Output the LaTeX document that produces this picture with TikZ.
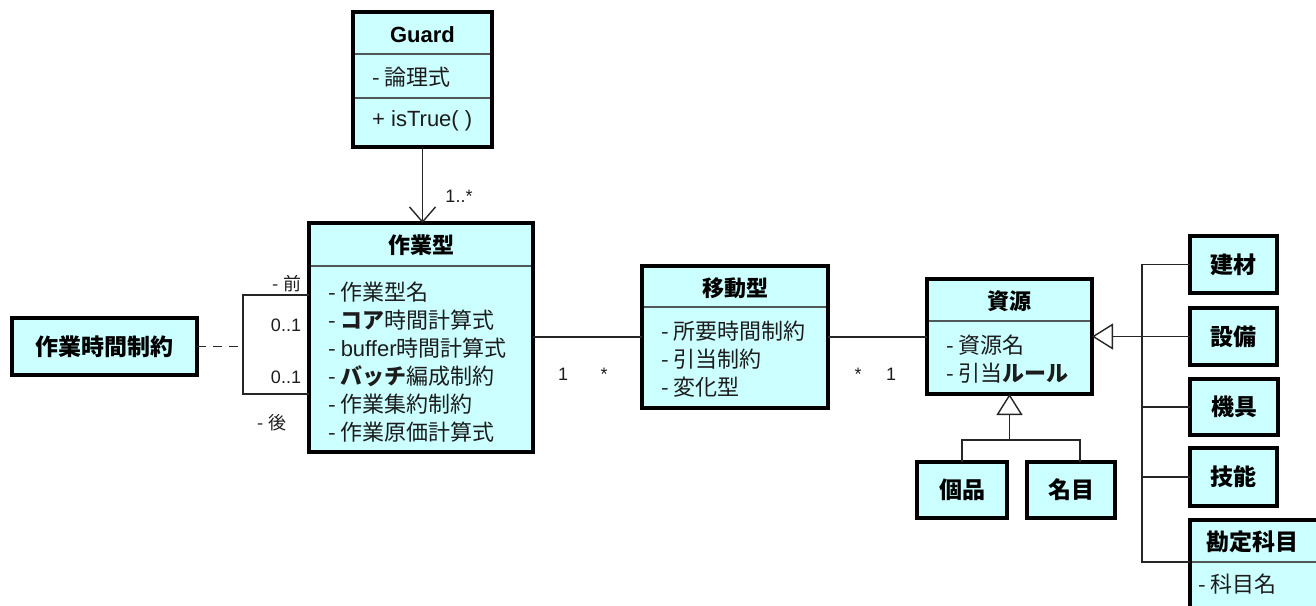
\documentclass[tikz,border=0pt]{standalone}
\usepackage{fontspec}
\setmainfont{Noto Sans CJK JP}
\newfontfamily\lat{Liberation Sans}
\usetikzlibrary{arrows.meta}
\definecolor{boxfill}{HTML}{CCFFFF}
\definecolor{sepgray}{HTML}{505858}
\definecolor{txt}{HTML}{1C1C1C}
\tikzset{
  box/.style={draw=black, line width=3.5pt, fill=boxfill, inner sep=0pt, outer sep=0pt, anchor=north west,
    font=\fontsize{23}{27}\selectfont\bfseries, text=black},
  sepline/.style={draw=sepgray, line width=1.6pt, shorten <=1.75pt, shorten >=1.75pt},
  title/.style={font=\fontsize{22}{26}\selectfont\bfseries, text=black, inner sep=0pt},
  attr/.style={font=\fontsize{22}{26}\selectfont, text=txt, anchor=west, inner sep=0pt},
  lbl/.style={font=\fontsize{18}{21}\selectfont, text=txt, inner sep=0pt},
  conn/.style={draw=black!85, line width=1.4pt},
  gen/.style={conn, -{Triangle[fill=white, length=21pt, width=26pt, line width=1.4pt]}},
}
\begin{document}
\begin{tikzpicture}[x=1pt, y=-1pt]
\useasboundingbox (0,0) rectangle (1316,605);
\clip (0,0) rectangle (1316,605);

% ---------- boxes ----------
\node[box, minimum width=139pt, minimum height=135pt] (guard) at (353,12) {};
\node[box, minimum width=224pt, minimum height=229pt] (sagyo) at (309,223) {};
\node[box, minimum width=186pt, minimum height=142pt] (ido) at (642,266) {};
\node[box, minimum width=165pt, minimum height=115pt] (shigen) at (927,279) {};
\node[box, minimum width=185pt, minimum height=57pt] (jikan) at (12,318) {作業時間制約};
\node[box, minimum width=90pt, minimum height=56pt] (kohin) at (917,462) {個品};
\node[box, minimum width=88pt, minimum height=56pt] (meimoku) at (1027,462) {名目};
\node[box, minimum width=87pt, minimum height=57pt] (kenzai) at (1190,236) {建材};
\node[box, minimum width=87pt, minimum height=57pt] (setsubi) at (1190,308) {設備};
\node[box, minimum width=88pt, minimum height=56pt] (kigu) at (1190,379) {機具};
\node[box, minimum width=87pt, minimum height=58pt] (gino) at (1190,448) {技能};
\node[box, minimum width=130pt, minimum height=90pt] (kanjo) at (1190,520) {};

% ---------- compartment separators ----------
\draw[sepline] (guard.west |- 0,54) -- (guard.east |- 0,54);
\draw[sepline] (guard.west |- 0,98) -- (guard.east |- 0,98);
\draw[sepline] (sagyo.west |- 0,266) -- (sagyo.east |- 0,266);
\draw[sepline] (ido.west |- 0,307) -- (ido.east |- 0,307);
\draw[sepline] (shigen.west |- 0,321) -- (shigen.east |- 0,321);
\draw[sepline] (kanjo.west |- 0,562) -- (kanjo.east |- 0,562);

% ---------- texts ----------
\node[title] (guardT) at (422.5,35) {\lat Guard};
\node[attr] (guardA) at (372,77) {- 論理式};
\node[attr] (guardM) at (372,121) {\lat + isTrue( )};

\node[title] (sagyoT) at (421,245) {作業型};
\node[attr] (sa1) at (328,292) {- 作業型名};
\node[attr] (sa2) at (328,320) {- \textbf{コア}時間計算式};
\node[attr] (sa3) at (328,348) {- {\lat buffer}時間計算式};
\node[attr] (sa4) at (328,376) {- \textbf{バッチ}編成制約};
\node[attr] (sa5) at (328,404) {- 作業集約制約};
\node[attr] (sa6) at (328,432) {- 作業原価計算式};

\node[title] (idoT) at (735,288) {移動型};
\node[attr] (id1) at (661,331) {- 所要時間制約};
\node[attr] (id2) at (661,359) {- 引当制約};
\node[attr] (id3) at (661,387) {- 変化型};

\node[title] (shigenT) at (1009.5,301) {資源};
\node[attr] (sh1) at (946,345) {- 資源名};
\node[attr] (sh2) at (946,373) {- 引当\textbf{ルール}};

\node[title, font=\fontsize{23}{27}\selectfont\bfseries] (kanjoT) at (1252,542) {勘定科目};
\node[attr] (ka1) at (1198,584) {- 科目名};

% ---------- connectors ----------
\draw[conn, -{Straight Barb[length=15pt, width=26pt, line width=1.4pt]}]
  (guard.south) -- (guard.south |- sagyo.north);
\node[lbl] (mGuard) at (459,196) {\lat 1..*};

\draw[conn] (sagyo.east |- ido.west) -- (ido.west);
\node[lbl] (m1a) at (563,374) {\lat 1};
\node[lbl] (m1b) at (604,374) {\lat *};

\draw[conn] (ido.east) -- (shigen.west |- ido.east);
\node[lbl] (m2a) at (858,374) {\lat *};
\node[lbl] (m2b) at (891,374) {\lat 1};

% bracket to 作業時間制約
\coordinate (brT) at (243,295);
\coordinate (brB) at (243,394);
\draw[conn] (sagyo.west |- brT) -- (brT) -- (brB) -- (sagyo.west |- brB);
\draw[conn, dash pattern=on 9pt off 7pt] (jikan.east) -- (jikan.east -| brT);
\node[lbl] (rolePre) at (287,284) {- 前};
\node[lbl] (mPre) at (286,325) {\lat 0..1};
\node[lbl] (mPost) at (286,377) {\lat 0..1};
\node[lbl] (rolePost) at (272,423) {- 後};

% generalization (right side)
\coordinate (trunk) at (1142,337);
\coordinate (kanjoStub) at (1190,562);
\draw[conn] (kenzai.west) -- (kenzai.west -| trunk) -- (trunk |- kanjoStub) -- (kanjoStub);
\draw[conn] (setsubi.west) -- (setsubi.west -| trunk);
\draw[conn] (kigu.west) -- (kigu.west -| trunk);
\draw[conn] (gino.west) -- (gino.west -| trunk);
\draw[gen] (setsubi.west -| trunk) -- (shigen.east);

% generalization (bottom)
\coordinate (gb) at (1009.5,440);
\coordinate (mmTop) at (1080,462);
\draw[conn] (kohin.north) |- (gb) -| (mmTop);
\draw[gen] (gb) -- (shigen.south);
\end{tikzpicture}
\end{document}
